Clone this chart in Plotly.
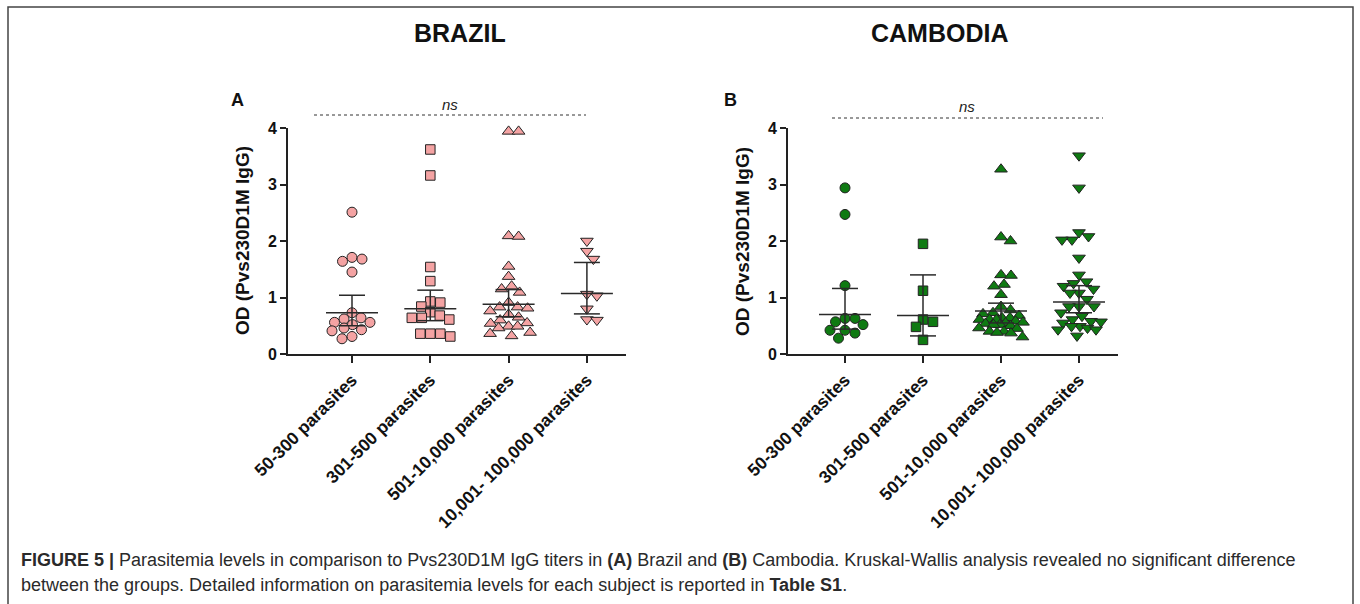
import numpy as np
import plotly.graph_objects as go

# ---------------- data ----------------
categories = ["50-300 parasites", "301-500 parasites",
              "501-10,000 parasites", "10,001- 100,000 parasites"]
y_ticks = [0, 1, 2, 3, 4]

brazil_50_300 = [2.51, 1.71, 1.68, 1.64, 1.45, 0.73, 0.64, 0.62, 0.56, 0.56,
                 0.52, 0.46, 0.43, 0.41, 0.31, 0.27]
brazil_301_500 = [3.62, 3.16, 1.54, 1.29, 0.93, 0.91, 0.84, 0.74, 0.68, 0.64,
                  0.64, 0.61, 0.36, 0.36, 0.36, 0.31]
brazil_501_10000 = [3.94, 3.94, 2.09, 2.08, 1.55, 1.37, 1.20, 1.15, 1.09, 0.91,
                    0.83, 0.83, 0.81, 0.76, 0.70, 0.65, 0.60, 0.55, 0.54, 0.49,
                    0.49, 0.46, 0.38, 0.36, 0.32]
brazil_10001_100000 = [2.00, 1.82, 1.68, 1.06, 1.03, 0.80, 0.61, 0.60]

cambodia_50_300 = [2.94, 2.47, 1.21, 0.63, 0.63, 0.57, 0.52, 0.42, 0.42, 0.37, 0.28]
cambodia_301_500 = [1.95, 1.12, 0.61, 0.57, 0.48, 0.25]
cambodia_501_10000 = [3.27, 2.07, 2.00, 1.40, 1.39, 1.23, 1.20, 1.05, 0.84, 0.78,
                      0.73, 0.71, 0.68, 0.64, 0.64, 0.61, 0.61, 0.61, 0.58, 0.56,
                      0.55, 0.54, 0.52, 0.52, 0.50, 0.46, 0.45, 0.40, 0.40, 0.38,
                      0.37, 0.30]
cambodia_10001_100000 = [3.51, 2.94, 2.15, 2.08, 2.02, 2.02, 1.70, 1.40, 1.28, 1.25,
                         1.20, 1.15, 1.08, 1.08, 0.97, 0.84, 0.84, 0.84, 0.73, 0.67,
                         0.61, 0.58, 0.57, 0.55, 0.49, 0.49, 0.46, 0.43, 0.43, 0.32]

# summary bars (centre line and whiskers)
brazil_center = [0.73, 0.80, 0.88, 1.07]
brazil_low = [0.50, 0.59, 0.66, 0.71]
brazil_high = [1.04, 1.13, 1.14, 1.62]
cambodia_center = [0.70, 0.68, 0.76, 0.92]
cambodia_low = [0.44, 0.32, 0.55, 0.73]
cambodia_high = [1.16, 1.40, 0.90, 1.21]

brazil_groups = [brazil_50_300, brazil_301_500, brazil_501_10000, brazil_10001_100000]
cambodia_groups = [cambodia_50_300, cambodia_301_500, cambodia_501_10000, cambodia_10001_100000]

# ---------------- layout constants ----------------
W, H = 1360, 604
def px(x): return x / W
def py(y): return 1 - y / H

Y_TOP, Y_BOT = 128, 354          # pixel rows of y=4 and y=0
SY = (Y_BOT - Y_TOP) / 4.0       # px per unit
panels = [
    dict(name="BRAZIL", letter="A", groups=brazil_groups, center=brazil_center,
         low=brazil_low, high=brazil_high, fill="#F4A3A3",
         axis_x=288, axis_end=626, cat0=352, step=78.3,
         title_x=460, letter_x=238, ns_x=450, ns_y=105, dash=(314, 586, 115)),
    dict(name="CAMBODIA", letter="B", groups=cambodia_groups, center=cambodia_center,
         low=cambodia_low, high=cambodia_high, fill="#0F7A12",
         axis_x=788, axis_end=1118, cat0=845, step=78.0,
         title_x=940, letter_x=730, ns_x=967, ns_y=107, dash=(832, 1103, 118)),
]
symbols = ["circle", "square", "triangle-up", "triangle-down"]
sizes = [10, 9.5, 11, 11]


def swarm(values, diam, sx, sy, maxw=22.0):
    """Beeswarm: nearest free offset to the centre, limited to +-maxw px;
    when no free slot exists, take the slot with the least overlap."""
    order = np.argsort(-np.asarray(values))
    placed = []
    offs = np.zeros(len(values))
    cands = [0.0]
    k = 1
    while k * 0.5 <= maxw:
        cands += [k * 0.5, -k * 0.5]
        k += 1
    for i in order:
        yy = values[i] * sy
        chosen, best, bestd = None, 0.0, -1
        for c in cands:
            dmin = min([np.hypot(c - a, yy - b) for a, b in placed] + [1e9])
            if dmin >= diam:
                chosen = c
                break
            if dmin > bestd + 0.8:
                best, bestd = c, dmin
        if chosen is None:
            chosen = best
        placed.append((chosen, yy))
        offs[i] = chosen / sx
    return offs


fig = go.Figure()
font_main = "Liberation Sans, Arial, sans-serif"
annotations = []
shapes = []

for pi, p in enumerate(panels):
    xa = "x" if pi == 0 else "x2"
    ya = "y" if pi == 0 else "y2"
    for gi, vals in enumerate(p["groups"]):
        offs = swarm(vals, 10.0, p["step"], SY)
        fig.add_trace(go.Scatter(
            x=[gi + o for o in offs], y=vals, mode="markers", xaxis=xa, yaxis=ya,
            cliponaxis=False, showlegend=False, hoverinfo="y",
            marker=dict(symbol=symbols[gi], size=sizes[gi], color=p["fill"],
                        line=dict(color="#222222", width=1))))
    # centre lines and whiskers
    lx, ly = [], []
    half_c = 26 / p["step"]
    half_w = 13 / p["step"]
    for gi in range(4):
        lx += [gi - half_c, gi + half_c, None]
        ly += [p["center"][gi], p["center"][gi], None]
        lx += [gi, gi, None]
        ly += [p["low"][gi], p["high"][gi], None]
        lx += [gi - half_w, gi + half_w, None, gi - half_w, gi + half_w, None]
        ly += [p["low"][gi], p["low"][gi], None, p["high"][gi], p["high"][gi], None]
    fig.add_trace(go.Scatter(x=lx, y=ly, mode="lines", xaxis=xa, yaxis=ya,
                             cliponaxis=False, showlegend=False, hoverinfo="skip",
                             line=dict(color="#2a2a2a", width=1.5)))

    rng = [-(p["cat0"] - p["axis_x"]) / p["step"],
           3 + (p["axis_end"] - (p["cat0"] + 3 * p["step"])) / p["step"]]
    axis_common = dict(showline=True, linecolor="#222222", linewidth=1.6,
                       showgrid=False, zeroline=False, ticks="outside",
                       tickcolor="#222222", tickwidth=1.6, automargin=False)
    fig.update_layout(**{
        ("xaxis" if pi == 0 else "xaxis2"): dict(
            domain=[px(p["axis_x"]), px(p["axis_end"])], range=rng,
            anchor=ya, tickvals=[0, 1, 2, 3], ticktext=categories, ticklen=7,
            tickangle=-45, tickfont=dict(family=font_main, size=17.5, color="#111111",
                                         weight="bold"),
            **axis_common),
        ("yaxis" if pi == 0 else "yaxis2"): dict(
            domain=[py(Y_BOT), py(Y_TOP)], range=[0, 4], anchor=xa,
            tickvals=y_ticks, ticklen=6,
            tickfont=dict(family=font_main, size=16, color="#111111", weight="bold"),
            **axis_common),
    })

    annotations.append(dict(text="<b>" + p["name"] + "</b>", x=px(p["title_x"]), y=py(33),
                            xref="paper", yref="paper", showarrow=False,
                            xanchor="center", yanchor="middle",
                            font=dict(family=font_main, size=25, color="#111111")))
    annotations.append(dict(text="<b>" + p["letter"] + "</b>", x=px(p["letter_x"]), y=py(100),
                            xref="paper", yref="paper", showarrow=False,
                            xanchor="center", yanchor="middle",
                            font=dict(family=font_main, size=18, color="#111111")))
    annotations.append(dict(text="<i>ns</i>", x=px(p["ns_x"]), y=py(p["ns_y"]),
                            xref="paper", yref="paper", showarrow=False,
                            xanchor="center", yanchor="middle",
                            font=dict(family=font_main, size=15, color="#222222")))
    annotations.append(dict(text="<b>OD (Pvs230D1M IgG)</b>", x=px(p["axis_x"] - 46),
                            y=py(241), xref="paper", yref="paper", showarrow=False,
                            xanchor="center", yanchor="middle", textangle=-90,
                            font=dict(family=font_main, size=19, color="#111111")))
    d0, d1, dy = p["dash"]
    shapes.append(dict(type="line", xref="paper", yref="paper",
                       x0=px(d0), x1=px(d1), y0=py(dy), y1=py(dy),
                       line=dict(color="#333333", width=1, dash="dot")))

caption1 = ("<b>FIGURE 5 |</b> Parasitemia levels in comparison to Pvs230D1M IgG titers in "
            "<b>(A)</b> Brazil and <b>(B)</b> Cambodia. Kruskal-Wallis analysis revealed "
            "no significant difference")
caption2 = ("between the groups. Detailed information on parasitemia levels for each "
            "subject is reported in <b>Table S1</b>.")
for txt, yy in [(caption1, 560), (caption2, 585)]:
    annotations.append(dict(text=txt, x=px(19), y=py(yy), xref="paper", yref="paper",
                            xanchor="left", yanchor="middle", showarrow=False,
                            font=dict(family=font_main, size=18, color="#2a2a2a")))

# outer frame
shapes.append(dict(type="rect", xref="paper", yref="paper", x0=px(8), x1=px(1353),
                   y0=-0.05, y1=py(7), line=dict(color="#444444", width=1.5)))

fig.update_layout(template="none", width=W, height=H,
                  margin=dict(l=0, r=0, t=0, b=0, autoexpand=False),
                  paper_bgcolor="white", plot_bgcolor="white",
                  annotations=annotations, shapes=shapes)

fig.write_html("out.html", config={"displayModeBar": False},
               post_script="document.body.style.margin='0px';"
                           "document.body.style.overflow='hidden';")
